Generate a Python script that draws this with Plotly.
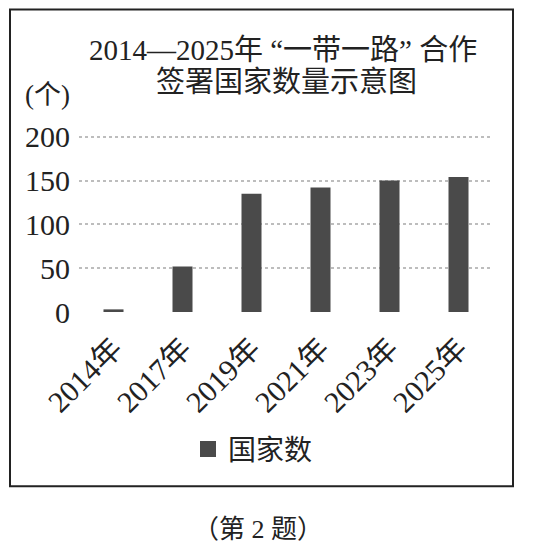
import plotly.graph_objects as go

years = ["2014年", "2017年", "2019年", "2021年", "2023年", "2025年"]
counts = [3, 52, 135, 142, 150, 154]
y_ticks = [0, 50, 100, 150, 200]
series_name = "国家数"

OFF = 8  # page body margin
W, H = 540 - OFF, 555 - OFF
YMAX = 202
PPU = 0.8785
L, R = 79 - OFF, 493 - OFF
B = 312.3 - OFF
T = B - YMAX * PPU

def px(x):
    return (x - OFF - L) / (R - L)

def py(y):
    return (B - (y - OFF)) / (B - T)

FONT = "Liberation Serif, 'Noto Sans CJK SC', serif"

fig = go.Figure()
fig.add_trace(go.Bar(
    x=years, y=counts, name=series_name, showlegend=False,
    marker=dict(color="#4a4a4a", line=dict(width=0)),
    width=0.29,
))
fig.add_trace(go.Scatter(
    x=[None], y=[None], mode="markers", name=series_name,
    marker=dict(symbol="square", size=19, color="#4a4a4a"),
    showlegend=True,
))

fig.update_layout(
    width=W, height=H,
    margin=dict(l=L, r=W - R, t=T, b=H - B, pad=0),
    paper_bgcolor="white", plot_bgcolor="white",
    font=dict(family=FONT, color="#222222"),
    showlegend=True,
    legend=dict(x=px(253), y=py(450), xanchor="center", yanchor="middle",
                orientation="h", font=dict(size=28, family=FONT),
                bgcolor="rgba(0,0,0,0)", itemsizing="trace"),
)
fig.update_xaxes(
    type="category", tickangle=-45, tickfont=dict(size=30, family=FONT),
    showgrid=False, showline=False, ticks="", zeroline=False,
    ticklabelstandoff=12,
)
fig.update_yaxes(
    range=[0, YMAX], tickvals=y_ticks, ticktext=[str(v) for v in y_ticks],
    tickfont=dict(size=30, family=FONT),
    showgrid=True, gridcolor="#bdbdbd", gridwidth=1.5, griddash="dot",
    zeroline=False, showline=False, ticks="", ticklabelstandoff=8,
)

# border box
fig.add_shape(type="rect", xref="paper", yref="paper",
              x0=px(10), x1=px(513), y0=py(487), y1=py(9),
              line=dict(color="#222222", width=2), fillcolor="rgba(0,0,0,0)",
              layer="below")

anns = [
    ("2014—2025年 “一带一路” 合作", 283, 50, 29),
    ("签署国家数量示意图", 286, 82, 29),
    ("(个)", 47, 95, 27),
    ("（第 2 题）", 258, 530, 26),
]
for text, x, y, s in anns:
    fig.add_annotation(text=text, xref="paper", yref="paper",
                       x=px(x), y=py(y), xanchor="center", yanchor="middle",
                       showarrow=False, font=dict(size=s, family=FONT, color="#222222"))

fig.write_html("out.html")
